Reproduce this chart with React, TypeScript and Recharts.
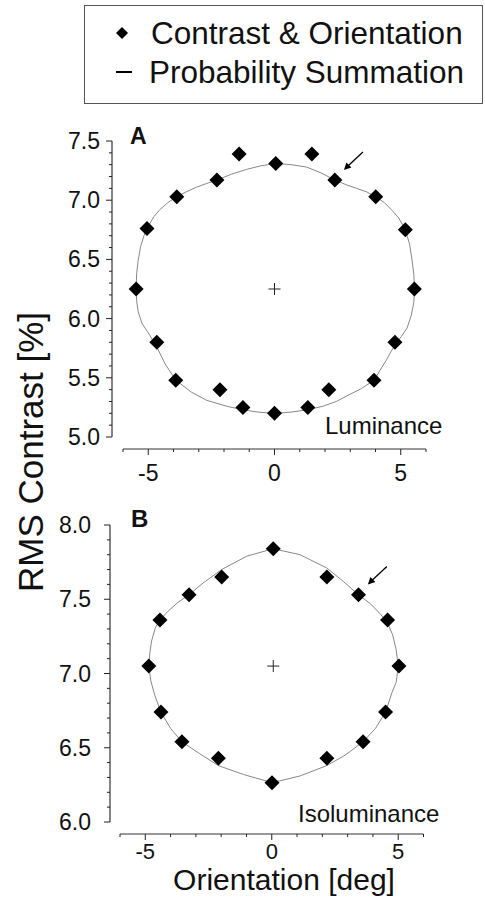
import React from "react";
import { ScatterChart, Scatter, XAxis, YAxis, ReferenceLine } from "recharts";

// Panel A: luminance thresholds (orientation in deg, RMS contrast in %)
const lumX = [-5.48, -5.05, -3.87, -2.28, -1.4, 0.05, 1.48, 2.39, 4.01, 5.18, 5.54, 4.77, 3.94, 2.15, 1.32, 0.0, -1.25, -2.16, -3.91, -4.66];
const lumY = [6.25, 6.76, 7.03, 7.17, 7.39, 7.31, 7.39, 7.17, 7.03, 6.75, 6.25, 5.8, 5.48, 5.4, 5.25, 5.2, 5.25, 5.4, 5.48, 5.8];

// probability summation curve
const lumFitX = [-5.48, -5.46, -5.4, -5.3, -5.17, -5.0, -4.78, -4.54, -4.22, -3.87, -3.5, -3.09, -2.7, -2.28, -1.7, -1.11, -0.55, 0.05, 0.65, 1.27, 1.85, 2.39, 2.85, 3.25, 3.65, 4.01, 4.35, 4.63, 4.92, 5.18, 5.35, 5.45, 5.52, 5.54, 5.52, 5.42, 5.25, 5.03, 4.77, 4.43, 3.94, 3.45, 2.98, 2.45, 1.92, 1.32, 0.65, 0.0, -0.65, -1.25, -1.9, -2.69, -3.3, -3.91, -4.34, -4.66, -5.0, -5.25, -5.4, -5.46, -5.48];
const lumFitY = [6.25, 6.38, 6.49, 6.61, 6.7, 6.78, 6.86, 6.92, 6.98, 7.03, 7.07, 7.11, 7.14, 7.17, 7.22, 7.26, 7.29, 7.31, 7.3, 7.28, 7.23, 7.17, 7.13, 7.1, 7.07, 7.03, 6.98, 6.92, 6.85, 6.75, 6.63, 6.49, 6.37, 6.25, 6.14, 6.03, 5.92, 5.85, 5.78, 5.65, 5.48, 5.41, 5.36, 5.3, 5.26, 5.23, 5.21, 5.2, 5.21, 5.23, 5.26, 5.31, 5.38, 5.48, 5.62, 5.76, 5.88, 5.96, 6.06, 6.15, 6.25];

const lumCenterX = [0];
const lumCenterY = [6.25];
const lumArrowX = [2.75];
const lumArrowY = [7.255];

// Panel B: isoluminance
const isoX = [-4.86, -4.42, -3.27, -1.98, 0.06, 2.18, 3.43, 4.58, 5.03, 4.5, 3.61, 2.18, 0.01, -2.11, -3.55, -4.38];
const isoY = [7.05, 7.36, 7.53, 7.65, 7.84, 7.65, 7.53, 7.36, 7.05, 6.74, 6.54, 6.43, 6.265, 6.43, 6.54, 6.74];

const isoFitX = [-4.86, -4.82, -4.75, -4.6, -4.42, -4.1, -3.7, -3.27, -2.71, -1.98, -0.99, 0.06, 1.12, 2.18, 2.83, 3.43, 3.9, 4.3, 4.58, 4.78, 4.92, 5.0, 4.92, 4.75, 4.5, 4.1, 3.61, 2.9, 2.18, 1.12, 0.01, -1.12, -2.11, -2.85, -3.55, -4.0, -4.38, -4.62, -4.78, -4.86];
const isoFitY = [7.05, 7.14, 7.22, 7.31, 7.36, 7.42, 7.48, 7.53, 7.61, 7.7, 7.79, 7.84, 7.8, 7.71, 7.62, 7.53, 7.47, 7.4, 7.34, 7.26, 7.16, 7.05, 6.94, 6.87, 6.74, 6.63, 6.54, 6.45, 6.38, 6.31, 6.265, 6.32, 6.38, 6.46, 6.54, 6.63, 6.74, 6.85, 6.95, 7.05];

const isoCenterX = [0.06];
const isoCenterY = [7.05];
const isoArrowX = [3.8];
const isoArrowY = [7.6];

// ticks
const xMajor = [-5, 0, 5];
const xMinor = [-6, -4, -3, -2, -1, 1, 2, 3, 4, 6];
const lumYMajor = [5.0, 5.5, 6.0, 6.5, 7.0, 7.5];
const lumYMinor = [5.1, 5.2, 5.3, 5.4, 5.6, 5.7, 5.8, 5.9, 6.1, 6.2, 6.3, 6.4, 6.6, 6.7, 6.8, 6.9, 7.1, 7.2, 7.3, 7.4];
const isoYMajor = [6.0, 6.5, 7.0, 7.5, 8.0];
const isoYMinor = [6.1, 6.2, 6.3, 6.4, 6.6, 6.7, 6.8, 6.9, 7.1, 7.2, 7.3, 7.4, 7.6, 7.7, 7.8, 7.9];

const FONT = "'Liberation Sans', Arial, Helvetica, sans-serif";
const INK = "#111";

const zip = (xs: number[], ys: number[]) => xs.map((x, i) => ({ x, y: ys[i] }));
const sorted = (a: number[], b: number[]) => [...a, ...b].sort((p, q) => p - q);
const isMajor = (list: number[], v: number) => list.some((m) => Math.abs(m - v) < 1e-6);

const Diamond = (props: any) => {
  const { cx, cy } = props;
  const r = 7.5;
  return <polygon points={`${cx},${cy - r} ${cx + r},${cy} ${cx},${cy + r} ${cx - r},${cy}`} fill="#000" />;
};

const NoDot = () => <g />;

const Cross = (props: any) => {
  const { cx, cy } = props;
  return (
    <g stroke="#222" strokeWidth={1}>
      <line x1={cx - 6} x2={cx + 6} y1={cy} y2={cy} />
      <line x1={cx} x2={cx} y1={cy - 6} y2={cy + 6} />
    </g>
  );
};

const Arrow = (props: any) => {
  const { cx, cy } = props;
  return (
    <g>
      <line x1={cx + 19} y1={cy - 18} x2={cx + 4} y2={cy - 4} stroke="#000" strokeWidth={1.3} />
      <polygon points={`${cx},${cy} ${cx + 7.5},${cy - 2.5} ${cx + 2.5},${cy - 7.5}`} fill="#000" />
    </g>
  );
};

const makeYTick = (majors: number[], gap: number) => (props: any) => {
  const { x, y, payload } = props;
  const v = payload.value;
  const major = isMajor(majors, v);
  return (
    <g>
      <line x1={x - (major ? 6 : 3)} x2={x} y1={y} y2={y} stroke="#222" strokeWidth={1} />
      {major && (
        <text x={x - gap} y={y + 8} textAnchor="end" fontSize={23} fill={INK} fontFamily={FONT}>
          {v.toFixed(1)}
        </text>
      )}
    </g>
  );
};

const makeXTick = (labelDy: number, size: number) => (props: any) => {
  const { x, y, payload } = props;
  const v = payload.value;
  const major = isMajor(xMajor, v);
  return (
    <g>
      <line x1={x} x2={x} y1={y} y2={y + (major ? 6 : 3)} stroke="#222" strokeWidth={1} />
      {major && (
        <text x={x} y={y + labelDy} textAnchor="middle" fontSize={size} fill={INK} fontFamily={FONT}>
          {String(v)}
        </text>
      )}
    </g>
  );
};

function Panel(props: {
  top: number;
  height: number;
  margin: { top: number; right: number; left: number; bottom: number };
  xHeight: number;
  padLeft: number;
  yDomain: [number, number];
  yMajor: number[];
  yMinor: number[];
  labelGap: number;
  xLabelDy: number;
  xLabelSize: number;
  points: { x: number; y: number }[];
  fit: { x: number; y: number }[];
  center: { x: number; y: number }[];
  arrow: { x: number; y: number }[];
}) {
  const width = 485;
  const plotW = width - props.margin.left - props.margin.right - 60;
  const plotH = props.height - props.margin.top - props.margin.bottom - props.xHeight;
  const pxPerX = (plotW - props.padLeft) / 12;
  const [y0, y1] = props.yDomain;
  const pxPerY = (plotH - 12) / (y1 - y0);
  const axisXVal = -6 - props.padLeft / pxPerX;
  const axisYVal = y0 - 12 / pxPerY;
  return (
    <div style={{ position: "absolute", left: 0, top: props.top, width, height: props.height }}>
      <ScatterChart width={width} height={props.height} margin={props.margin}>
        <XAxis
          type="number"
          dataKey="x"
          domain={[-6, 6]}
          allowDataOverflow
          ticks={sorted(xMajor, xMinor)}
          interval={0}
          tick={makeXTick(props.xLabelDy, props.xLabelSize)}
          tickLine={false}
          axisLine={false}
          tickSize={0}
          tickMargin={0}
          height={props.xHeight}
          padding={{ left: props.padLeft, right: 0 }}
        />
        <YAxis
          type="number"
          dataKey="y"
          domain={props.yDomain}
          allowDataOverflow
          ticks={sorted(props.yMajor, props.yMinor)}
          interval={0}
          tick={makeYTick(props.yMajor, props.labelGap)}
          tickLine={false}
          axisLine={false}
          tickSize={0}
          tickMargin={0}
          width={60}
          padding={{ top: 0, bottom: 12 }}
        />
        <ReferenceLine
          segment={[{ x: axisXVal, y: y0 }, { x: axisXVal, y: y1 }]}
          stroke="#333"
          strokeWidth={1.2}
          ifOverflow="visible"
        />
        <ReferenceLine
          segment={[{ x: -6, y: axisYVal }, { x: 6, y: axisYVal }]}
          stroke="#333"
          strokeWidth={1.2}
          ifOverflow="visible"
        />
        <Scatter data={props.fit} line={{ stroke: "#888", strokeWidth: 1 }} shape={NoDot} isAnimationActive={false} />
        <Scatter data={props.points} shape={Diamond} isAnimationActive={false} />
        <Scatter data={props.center} shape={Cross} isAnimationActive={false} />
        <Scatter data={props.arrow} shape={Arrow} isAnimationActive={false} />
      </ScatterChart>
    </div>
  );
}

export default function App() {
  return (
    <div style={{ position: "absolute", left: 0, top: 0, width: 485, height: 905, background: "#fff", fontFamily: FONT }}>
      <Panel
        top={110}
        height={380}
        margin={{ top: 31, right: 59, left: 52, bottom: 0 }}
        xHeight={41}
        padLeft={11}
        yDomain={[5, 7.5]}
        yMajor={lumYMajor}
        yMinor={lumYMinor}
        labelGap={12}
        xLabelDy={32}
        xLabelSize={23}
        points={zip(lumX, lumY)}
        fit={zip(lumFitX, lumFitY)}
        center={zip(lumCenterX, lumCenterY)}
        arrow={zip(lumArrowX, lumArrowY)}
      />
      <Panel
        top={495}
        height={375}
        margin={{ top: 30, right: 61.5, left: 50, bottom: 0 }}
        xHeight={36}
        padLeft={10}
        yDomain={[6, 8]}
        yMajor={isoYMajor}
        yMinor={isoYMinor}
        labelGap={19}
        xLabelDy={25}
        xLabelSize={22}
        points={zip(isoX, isoY)}
        fit={zip(isoFitX, isoFitY)}
        center={zip(isoCenterX, isoCenterY)}
        arrow={zip(isoArrowX, isoArrowY)}
      />
      <svg
        width={485}
        height={905}
        style={{ position: "absolute", left: 0, top: 0, pointerEvents: "none" }}
        fontFamily={FONT}
        fill={INK}
      >
        {/* legend */}
        <rect x={84.5} y={5.5} width={398} height={98} fill="none" stroke="#555" strokeWidth={1} />
        <polygon points="122,27 128,33 122,39 116,33" fill="#000" />
        <text x={151} y={44} fontSize={31.5}>Contrast &amp; Orientation</text>
        <line x1={116} x2={132} y1={72} y2={72} stroke="#000" strokeWidth={2} />
        <text x={149} y={83} fontSize={31.5}>Probability Summation</text>

        {/* panel labels */}
        <text x={130} y={144} fontSize={23} fontWeight="bold">A</text>
        <text x={131} y={527} fontSize={24} fontWeight="bold">B</text>
        <text x={325} y={434} fontSize={24}>Luminance</text>
        <text x={298} y={822} fontSize={24}>Isoluminance</text>

        {/* axis titles */}
        <text x={284} y={890} fontSize={30} textAnchor="middle">Orientation [deg]</text>
        <text x={0} y={0} fontSize={35} textAnchor="middle" transform="translate(43 452) rotate(-90)">
          RMS Contrast [%]
        </text>
      </svg>
    </div>
  );
}
